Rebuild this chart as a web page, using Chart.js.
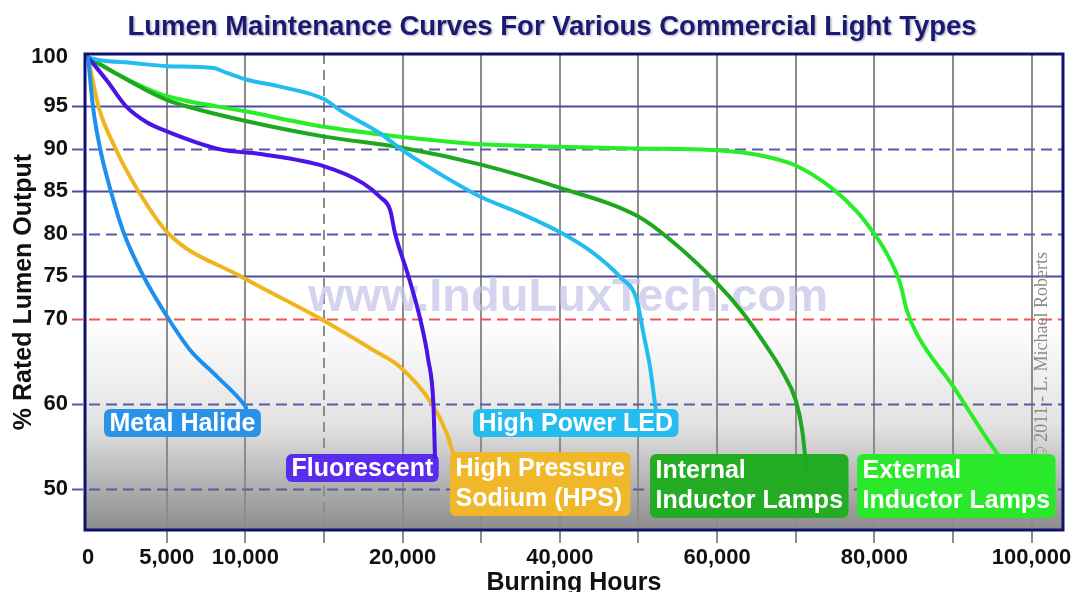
<!DOCTYPE html>
<html>
<head>
<meta charset="utf-8">
<script src="https://cdn.jsdelivr.net/npm/chart.js@4.4.1/dist/chart.umd.min.js"></script>
<style>
  html, body { margin: 0; padding: 0; background: #ffffff; }
  #wrap { width: 1074px; height: 592px; position: relative; }
</style>
</head>
<body>
<div id="wrap"><canvas id="c" width="1074" height="592"></canvas></div>
<script>
// ---------- axis ticks & grid ----------
const X_TICKS = [0, 5000, 10000, 20000, 40000, 60000, 80000, 100000];
const Y_TICKS = [50, 60, 70, 75, 80, 85, 90, 95, 100];
const X_GRID = [5000, 10000, 15000, 20000, 30000, 40000, 50000, 60000, 70000, 80000, 90000, 100000];
const X_GRID_DASHED = [15000];
const Y_GRID_SOLID = [95, 85, 75];
const Y_GRID_DASHED = [90, 80, 60, 50];
const Y_GRID_RED = [70];

const TITLE = 'Lumen Maintenance Curves For Various Commercial Light Types';
const X_TITLE = 'Burning Hours';
const Y_TITLE = '% Rated Lumen Output';

// ---------- series (burning hours, % rated lumen output) ----------
const metalHalideHours = [0, 300, 760, 1440, 2280, 3510, 5100, 6480, 8180, 9870, 10050];
const metalHalideLumen = [100, 95, 90, 85, 80, 75, 70, 66.3, 63.2, 60, 59.5];

const hpsHours = [0, 650, 1740, 3190, 5100, 9660, 14750, 18120, 19840, 23700, 25610, 26410];
const hpsLumen = [100, 95, 90, 85, 80, 75, 70, 66.3, 64.3, 60, 56.5, 54.2];

const fluorescentHours = [0, 1200, 2400, 3730, 5040, 8390, 10930, 15020, 17500, 18560, 19200, 19520, 20730, 22220, 23270, 23910, 24120];
const fluorescentLumen = [100, 97.6, 95, 93.1, 92.0, 89.9, 89.35, 87.9, 85.9, 84.3, 82.8, 80, 75, 70, 65.1, 60, 53.7];

const ledHours = [0, 760, 2670, 5040, 7960, 8820, 10090, 12200, 15020, 16020, 18560, 19980, 24760, 29970, 34930, 39930, 44260, 47650, 49780, 50620, 51470, 52100, 52230];
const ledLumen = [100, 99.7, 99.45, 99.1, 98.9, 98.4, 97.7, 97.0, 95.7, 94.5, 91.8, 89.8, 87.0, 84.3, 82.4, 80.2, 77.7, 74.9, 72.2, 68.3, 64.3, 60, 59.2];

const internalHours = [0, 1600, 3730, 5040, 6480, 10090, 15020, 19980, 29970, 39930, 49980, 54010, 59950, 63340, 66310, 68400, 70000, 70800, 71400];
const internalLumen = [100, 98.5, 96.6, 95.6, 94.85, 93.2, 91.4, 90.1, 88.1, 85.4, 82.0, 79.3, 74.2, 70.6, 66.7, 63.6, 60.4, 57.0, 52.1];

const externalHours = [0, 1600, 3730, 5040, 10090, 15020, 19980, 24760, 29970, 39930, 49980, 60000, 65460, 70000, 74790, 77760, 79960, 81360, 83270, 84120, 85400, 90050, 93870, 98530];
const externalLumen = [100, 98.5, 96.8, 96.0, 94.35, 92.55, 91.35, 90.9, 90.5, 90.2, 90.0, 89.8, 89.2, 88.0, 85.2, 82.6, 80.0, 78.0, 74.2, 71.0, 68.2, 62.0, 56.5, 50.3];

// ---------- scale definitions (value breakpoints -> grid units) ----------
const SCALE_SPECS = {
  x: { breaks: [[0, 0], [20000, 4], [100000, 12]], unitMin: -0.04, unitMax: 12.4 },
  y: { breaks: [[45, 45], [95, 95], [100, 100.72]], unitMin: 45.12, unitMax: 101.12 }
};

const SERIES = [
  { label: 'Metal Halide', hours: metalHalideHours, lumen: metalHalideLumen, color: '#1f8fee' },
  { label: 'Fluorescent', hours: fluorescentHours, lumen: fluorescentLumen, color: '#4a14e6' },
  { label: 'High Pressure Sodium (HPS)', hours: hpsHours, lumen: hpsLumen, color: '#f0b41c' },
  { label: 'High Power LED', hours: ledHours, lumen: ledLumen, color: '#22bcef' },
  { label: 'Internal Inductor Lamps', hours: internalHours, lumen: internalLumen, color: '#1fa71f' },
  { label: 'External Inductor Lamps', hours: externalHours, lumen: externalLumen, color: '#27ee27' }
];

// label boxes anchored at (hours, %) of their top-left corner
const LABELS = [
  { lines: ['Metal Halide'], x: 1010, y: 59.35, color: '#2b92ea' },
  { lines: ['Fluorescent'], x: 12585, y: 54.06, color: '#5a2cf0' },
  { lines: ['High Pressure', 'Sodium (HPS)'], x: 26030, y: 54.29, color: '#f0b72a' },
  { lines: ['High Power LED'], x: 28960, y: 59.35, color: '#25bdf0' },
  { lines: ['Internal', 'Inductor Lamps'], x: 51470, y: 54.06, color: '#24ad24' },
  { lines: ['External', 'Inductor Lamps'], x: 77800, y: 54.06, color: '#2ae92a' }
];

const FONT = "'Liberation Sans', Arial, sans-serif";
Chart.defaults.font.family = FONT;

function fmt(v) { return String(v).replace(/\B(?=(\d{3})+(?!\d))/g, ','); }

// ---------- piecewise linear scale ----------
const BaseLinear = Chart.LinearScale || Chart.registry.getScale('linear');
class PiecewiseScale extends BaseLinear {
  get spec() { return SCALE_SPECS[this.id]; }
  toUnit(v) {
    const b = this.spec.breaks;
    let i = b.length - 2;
    for (let k = 0; k < b.length - 1; k++) { if (v <= b[k + 1][0]) { i = k; break; } }
    const [v0, u0] = b[i], [v1, u1] = b[i + 1];
    return u0 + (v - v0) * (u1 - u0) / (v1 - v0);
  }
  fromUnit(u) {
    const b = this.spec.breaks;
    let i = b.length - 2;
    for (let k = 0; k < b.length - 1; k++) { if (u <= b[k + 1][1]) { i = k; break; } }
    const [v0, u0] = b[i], [v1, u1] = b[i + 1];
    return v0 + (u - u0) * (v1 - v0) / (u1 - u0);
  }
  getPixelForValue(value) {
    if (value === null || value === undefined || isNaN(value)) return NaN;
    const s = this.spec;
    return this.getPixelForDecimal((this.toUnit(value) - s.unitMin) / (s.unitMax - s.unitMin));
  }
  getValueForPixel(pixel) {
    const s = this.spec;
    return this.fromUnit(s.unitMin + this.getDecimalForPixel(pixel) * (s.unitMax - s.unitMin));
  }
}
PiecewiseScale.id = 'piecewise';
PiecewiseScale.defaults = BaseLinear.defaults;
Chart.register(PiecewiseScale);

// ---------- decoration plugin ----------
const decor = {
  id: 'decor',
  beforeDraw(chart) {
    const { ctx, chartArea: a } = chart;
    ctx.save();
    ctx.fillStyle = '#ffffff';
    ctx.fillRect(0, 0, chart.width, chart.height);
    const g = ctx.createLinearGradient(0, a.top, 0, a.bottom);
    g.addColorStop(0, '#ffffff');
    g.addColorStop(0.56, '#ffffff');
    g.addColorStop(0.78, '#e2e2e2');
    g.addColorStop(1, '#8c8c8c');
    ctx.fillStyle = g;
    ctx.fillRect(a.left, a.top, a.width, a.height);
    ctx.restore();
  },
  beforeDatasetsDraw(chart) {
    const { ctx, chartArea: a, scales } = chart;
    const xs = scales.x, ys = scales.y;
    ctx.save();
    // vertical grid lines + tick marks
    ctx.lineWidth = 2;
    ctx.strokeStyle = '#8c8c8c';
    X_GRID.forEach(v => {
      const px = Math.round(xs.getPixelForValue(v));
      ctx.setLineDash(X_GRID_DASHED.includes(v) ? [10, 6] : []);
      ctx.beginPath(); ctx.moveTo(px, a.top); ctx.lineTo(px, a.bottom); ctx.stroke();
      ctx.setLineDash([]);
      ctx.beginPath(); ctx.moveTo(px, a.bottom); ctx.lineTo(px, a.bottom + 13); ctx.stroke();
    });
    // horizontal grid lines (extend left as tick marks)
    const hline = (v, color, dash) => {
      const py = Math.round(ys.getPixelForValue(v)) + 0.5;
      ctx.strokeStyle = color; ctx.lineWidth = 1.8;
      ctx.setLineDash(dash);
      ctx.beginPath(); ctx.moveTo(a.left - 13, py); ctx.lineTo(a.right, py); ctx.stroke();
    };
    Y_GRID_SOLID.forEach(v => hline(v, '#4c4c9c', []));
    Y_GRID_DASHED.forEach(v => hline(v, '#5a5aa6', [11, 6]));
    Y_GRID_RED.forEach(v => hline(v, '#ee5656', [11, 6]));
    ctx.setLineDash([]);

    // watermark
    ctx.font = 'bold 47px ' + FONT;
    ctx.fillStyle = 'rgba(196,196,232,0.72)';
    ctx.textAlign = 'center';
    ctx.textBaseline = 'middle';
    ctx.fillText('www.InduLuxTech.com', a.left + a.width * 0.494, ys.getPixelForValue(72.4));

    // copyright
    ctx.save();
    ctx.translate(a.right - 21, ys.getPixelForValue(65.6));
    ctx.rotate(-Math.PI / 2);
    ctx.font = "18px 'Liberation Serif', 'Times New Roman', serif";
    ctx.fillStyle = '#8a8a8a';
    ctx.fillText('\u00A9 2011 - L. Michael Roberts', 0, 0);
    ctx.restore();

    // label boxes (backgrounds)
    ctx.font = 'bold 25px ' + FONT;
    LABELS.forEach(l => {
      const bx = xs.getPixelForValue(l.x), by = ys.getPixelForValue(l.y);
      const w = Math.max(...l.lines.map(t => ctx.measureText(t).width)) + 11;
      const h = 28 + 36 * (l.lines.length - 1);
      l._box = { bx, by, w, h };
      ctx.fillStyle = l.color;
      ctx.beginPath();
      ctx.roundRect(bx, by, w, h, 6);
      ctx.fill();
    });
    ctx.restore();
  },
  afterDatasetsDraw(chart) {
    const { ctx, chartArea: a } = chart;
    ctx.save();
    // label texts
    ctx.font = 'bold 25px ' + FONT;
    ctx.fillStyle = '#ffffff';
    ctx.textAlign = 'left';
    ctx.textBaseline = 'alphabetic';
    LABELS.forEach(l => {
      const b = l._box;
      l.lines.forEach((t, i) => ctx.fillText(t, b.bx + 5.5, b.by + (l.lines.length > 1 ? 24 : 22) + 30 * i));
    });
    // plot border
    ctx.strokeStyle = '#10106e';
    ctx.lineWidth = 3;
    ctx.strokeRect(a.left, a.top, a.width, a.height);
    ctx.restore();
  },
  afterDraw(chart) {
    const { ctx, chartArea: a } = chart;
    ctx.save();
    // chart title with soft shadow
    ctx.font = 'bold 27.5px ' + FONT;
    ctx.textAlign = 'center';
    ctx.textBaseline = 'middle';
    ctx.shadowColor = 'rgba(90,90,130,0.45)';
    ctx.shadowOffsetX = 1.5;
    ctx.shadowOffsetY = 1.5;
    ctx.shadowBlur = 2;
    ctx.fillStyle = '#1a1a70';
    ctx.fillText(TITLE, 552, 27);
    ctx.shadowColor = 'transparent';
    // axis titles
    ctx.fillStyle = '#111111';
    ctx.font = 'bold 25px ' + FONT;
    ctx.textBaseline = 'alphabetic';
    ctx.fillText(X_TITLE, (a.left + a.right) / 2, 590);
    ctx.translate(31, (a.top + a.bottom) / 2);
    ctx.rotate(-Math.PI / 2);
    ctx.fillText(Y_TITLE, 0, 0);
    ctx.restore();
  }
};

new Chart(document.getElementById('c'), {
  type: 'line',
  data: {
    datasets: SERIES.map(s => ({
      label: s.label,
      data: s.hours.map((h, i) => ({ x: h, y: s.lumen[i] })),
      borderColor: s.color,
      backgroundColor: s.color,
      borderWidth: 4,
      pointRadius: 0,
      fill: false,
      cubicInterpolationMode: 'monotone',
      borderCapStyle: 'round',
      borderJoinStyle: 'round'
    }))
  },
  options: {
    responsive: false,
    maintainAspectRatio: false,
    animation: false,
    devicePixelRatio: 1,
    events: [],
    layout: { padding: { left: 0, right: 11, top: 54, bottom: 0 } },
    plugins: {
      legend: { display: false },
      tooltip: { enabled: false },
      title: { display: false }
    },
    scales: {
      x: {
        type: 'piecewise', position: 'bottom', min: 0, max: 104000,
        grid: { display: false, drawTicks: true, tickLength: 13 },
        border: { display: false },
        ticks: { autoSkip: false, maxRotation: 0, minRotation: 0, padding: 2, color: '#111111',
                 font: { size: 22, weight: 'bold' }, callback: v => fmt(v) },
        afterBuildTicks: s => { s.ticks = X_TICKS.map(v => ({ value: v })); },
        afterFit: s => { s.height = 62; }
      },
      y: {
        type: 'piecewise', position: 'left', min: 45, max: 101,
        grid: { display: false, drawTicks: true, tickLength: 13 },
        border: { display: false },
        ticks: { autoSkip: false, padding: 4, color: '#111111',
                 font: { size: 22, weight: 'bold' }, callback: v => String(v) },
        afterBuildTicks: s => { s.ticks = Y_TICKS.map(v => ({ value: v })); },
        afterFit: s => { s.width = 85; }
      }
    }
  },
  plugins: [decor]
});
</script>
</body>
</html>
